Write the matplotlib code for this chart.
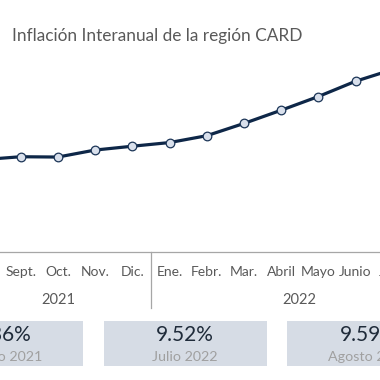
import matplotlib
matplotlib.use("Agg")
import matplotlib.pyplot as plt
from matplotlib.patches import Rectangle
import matplotlib.transforms as mtrans

# ---- data ----
months = ["Agos.", "Sept.", "Oct.", "Nov.", "Dic.", "Ene.", "Febr.", "Mar.", "Abril",
          "Mayo", "Junio", "Julio", "Agos."]
years = ["2021", "2022"]
year_counts = [5, 8]
inflation = [3.86, 4.04, 4.02, 4.46, 4.70, 4.93, 5.36, 6.13, 6.96, 7.82, 8.78, 9.52, 9.59]
box_values = ["3.86%", "9.52%", "9.59%"]
box_labels = ["Agosto 2021", "Julio 2022", "Agosto 2022"]
title = "Inflación Interanual de la región CARD"

plt.rcParams['font.family'] = ['Lato', 'DejaVu Sans']

W = H = 380
fig = plt.figure(figsize=(3.8, 3.8), dpi=100)
ax = fig.add_axes([0, 0, 1, 1])
ax.set_axis_off()

sp = 37.2
x0 = -16.5
ax.set_xlim((0 - x0) / sp, (W - x0) / sp)
ax.set_ylim(-9.984, 13.885)

navy = "#0e2748"
xs = list(range(len(inflation)))
ax.plot(xs, inflation, color=navy, lw=2.3, marker="o", ms=6.2,
        mfc="#d9e0ec", mec="#1c3557", mew=0.9, clip_on=False, zorder=3)

def fy(py):
    return 1 - py / H

trans = mtrans.blended_transform_factory(ax.transData, fig.transFigure)

# month labels
for i, m in enumerate(months):
    ax.text(i, fy(272.5), m, transform=trans, ha="center", va="center",
            fontsize=10, color="#595959", clip_on=False)

# year labels and separators
start = 0
seps = [-0.5]
for y, c in zip(years, year_counts):
    center = start + (c - 1) / 2
    ax.text(center, fy(300), y, transform=trans, ha="center", va="center",
            fontsize=10.5, color="#595959")
    start += c
    seps.append(start - 0.5)
for s in seps:
    ax.plot([s, s], [fy(252.3), fy(308)], transform=trans, color="#a6a6a6", lw=0.9,
            clip_on=False)
fig.add_artist(plt.Line2D([0, 1], [fy(252.3), fy(252.3)], transform=fig.transFigure,
                          color="#a6a6a6", lw=0.9))

# title
fig.text(12 / W, fy(36), title, ha="left", va="center", fontsize=12.4, color="#595959")

# summary boxes
bw = 162.7
gap = 20.6
bx0 = -79.4
for k, (v, lab) in enumerate(zip(box_values, box_labels)):
    left = bx0 + k * (bw + gap)
    fig.add_artist(Rectangle((left / W, fy(366)), bw / W, (366 - 320.7) / H,
                             transform=fig.transFigure, facecolor="#d6dce5",
                             edgecolor="none"))
    cx = (left + bw / 2) / W
    fig.text(cx, fy(335), v, ha="center", va="center", fontsize=15, color="#1f2b3a")
    fig.text(cx, fy(357), lab, ha="center", va="center", fontsize=10.3, color="#a0a0a0")

fig.savefig("out.png", dpi=100)
